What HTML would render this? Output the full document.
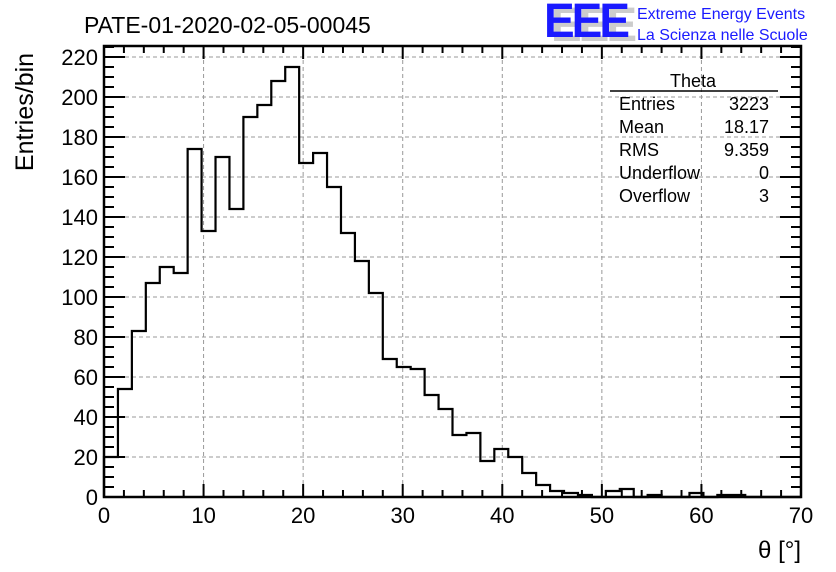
<!DOCTYPE html>
<html><head><meta charset="utf-8">
<style>
html,body{margin:0;padding:0;background:#fff;}
svg{display:block;font-family:"Liberation Sans",Arial,sans-serif;}
</style></head>
<body>
<svg id="chart" width="836" height="572" viewBox="0 0 836 572" xmlns="http://www.w3.org/2000/svg">
  <rect width="836" height="572" fill="#fff"/>
  <g id="grid"></g>
  <g id="hist"></g>
  <g id="axes"></g>
  <text x="84" y="33" font-size="23">PATE-01-2020-02-05-00045</text>
  <g>
    <text x="551" y="41" font-size="46" font-weight="bold" fill="#ccc" letter-spacing="-3" transform="translate(551 41) scale(1 1.05) translate(-551 -41)">EEE</text>
    <text x="544" y="37" font-size="46" font-weight="bold" fill="#1a1aff" letter-spacing="-3" transform="translate(544 37) scale(1 1.05) translate(-544 -37)">EEE</text>
    <text x="637" y="19" font-size="16" fill="#1a1aff">Extreme Energy Events</text>
    <text x="637" y="40" font-size="16" fill="#1a1aff">La Scienza nelle Scuole</text>
  </g>
  <g font-size="18">
    <text x="693" y="87" text-anchor="middle">Theta</text>
    <line x1="610" y1="91" x2="778" y2="91" stroke="#000" stroke-width="1.5"/>
    <text x="619" y="110">Entries</text><text x="769" y="110" text-anchor="end">3223</text>
    <text x="619" y="133">Mean</text><text x="769" y="133" text-anchor="end">18.17</text>
    <text x="619" y="156">RMS</text><text x="769" y="156" text-anchor="end">9.359</text>
    <text x="619" y="179">Underflow</text><text x="769" y="179" text-anchor="end">0</text>
    <text x="619" y="202">Overflow</text><text x="769" y="202" text-anchor="end">3</text>
  </g>
  <text x="33" y="112" font-size="25" transform="rotate(-90 33 112)" text-anchor="middle">Entries/bin</text>
  <text x="801" y="558" font-size="24" text-anchor="end">θ [°]</text>
</svg>
<script>
const counts = [20,54,83,107,115,112,174,133,170,144,190,196,208,215,167,172,155,132,118,102,
  69,65,64,51,44,31,32,18,24,20,12,6,3,2,1,0,3,4,0,1,0,0,2,0,1,1,0,0,0,0];
const binLow = 0, binHigh = 70;
const xTicks = [0,10,20,30,40,50,60,70];
const yTicks = [0,20,40,60,80,100,120,140,160,180,200,220];

const X0=104, X1=801, Y0=497, Y1=46, xMax=70, yMax=225.5;
const NS='http://www.w3.org/2000/svg';
function sx(v){return X0+(v-binLow)/(xMax-binLow)*(X1-X0);}
function sy(v){return Y0-v/yMax*(Y0-Y1);}
function mk(tag,attrs,parent){const e=document.createElementNS(NS,tag);for(const k in attrs)e.setAttribute(k,attrs[k]);parent.appendChild(e);return e;}

const grid=document.getElementById('grid');
xTicks.forEach(t=>{if(t>0&&t<xMax){const l=mk('line',{x1:sx(t),x2:sx(t),y1:Y1,y2:Y0,stroke:'#999','stroke-dasharray':'4,3','stroke-width':1},grid);

}});
yTicks.forEach(t=>{if(t>0){const l=mk('line',{x1:X0,x2:X1,y1:sy(t),y2:sy(t),stroke:'#999','stroke-dasharray':'4,3','stroke-width':1},grid);

}});

const hist=document.getElementById('hist');
const bw=(binHigh-binLow)/counts.length;
let d='M'+sx(binLow)+','+sy(0);
counts.forEach((c,i)=>{d+=' L'+sx(binLow+i*bw)+','+sy(c)+' L'+sx(binLow+(i+1)*bw)+','+sy(c);});
d+=' L'+sx(binHigh)+','+sy(0);
const p=mk('path',{d:d,fill:'none',stroke:'#000','stroke-width':2.2},hist);



const axes=document.getElementById('axes');
mk('rect',{x:X0,y:Y1,width:X1-X0,height:Y0-Y1,fill:'none',stroke:'#000','stroke-width':2.5},axes);
for(let v=0;v<=xMax;v+=2){const major=v%10===0;const L=major?13:7;
  mk('line',{x1:sx(v),x2:sx(v),y1:Y0,y2:Y0-L,stroke:'#000','stroke-width':2},axes);
  mk('line',{x1:sx(v),x2:sx(v),y1:Y1,y2:Y1+L,stroke:'#000','stroke-width':2},axes);}
for(let v=0;v<=yMax;v+=5){const major=v%20===0;const L=major?21:10;
  mk('line',{x1:X0,x2:X0+L,y1:sy(v),y2:sy(v),stroke:'#000','stroke-width':2},axes);
  mk('line',{x1:X1,x2:X1-L,y1:sy(v),y2:sy(v),stroke:'#000','stroke-width':2},axes);}
xTicks.forEach(t=>{const e=mk('text',{x:sx(t),y:Y0+26,'font-size':22,'text-anchor':'middle'},axes);e.textContent=t;

});
yTicks.forEach(t=>{const e=mk('text',{x:X0-6,y:sy(t)+8,'font-size':22,'text-anchor':'end'},axes);e.textContent=t;

});
</script>
</body></html>
